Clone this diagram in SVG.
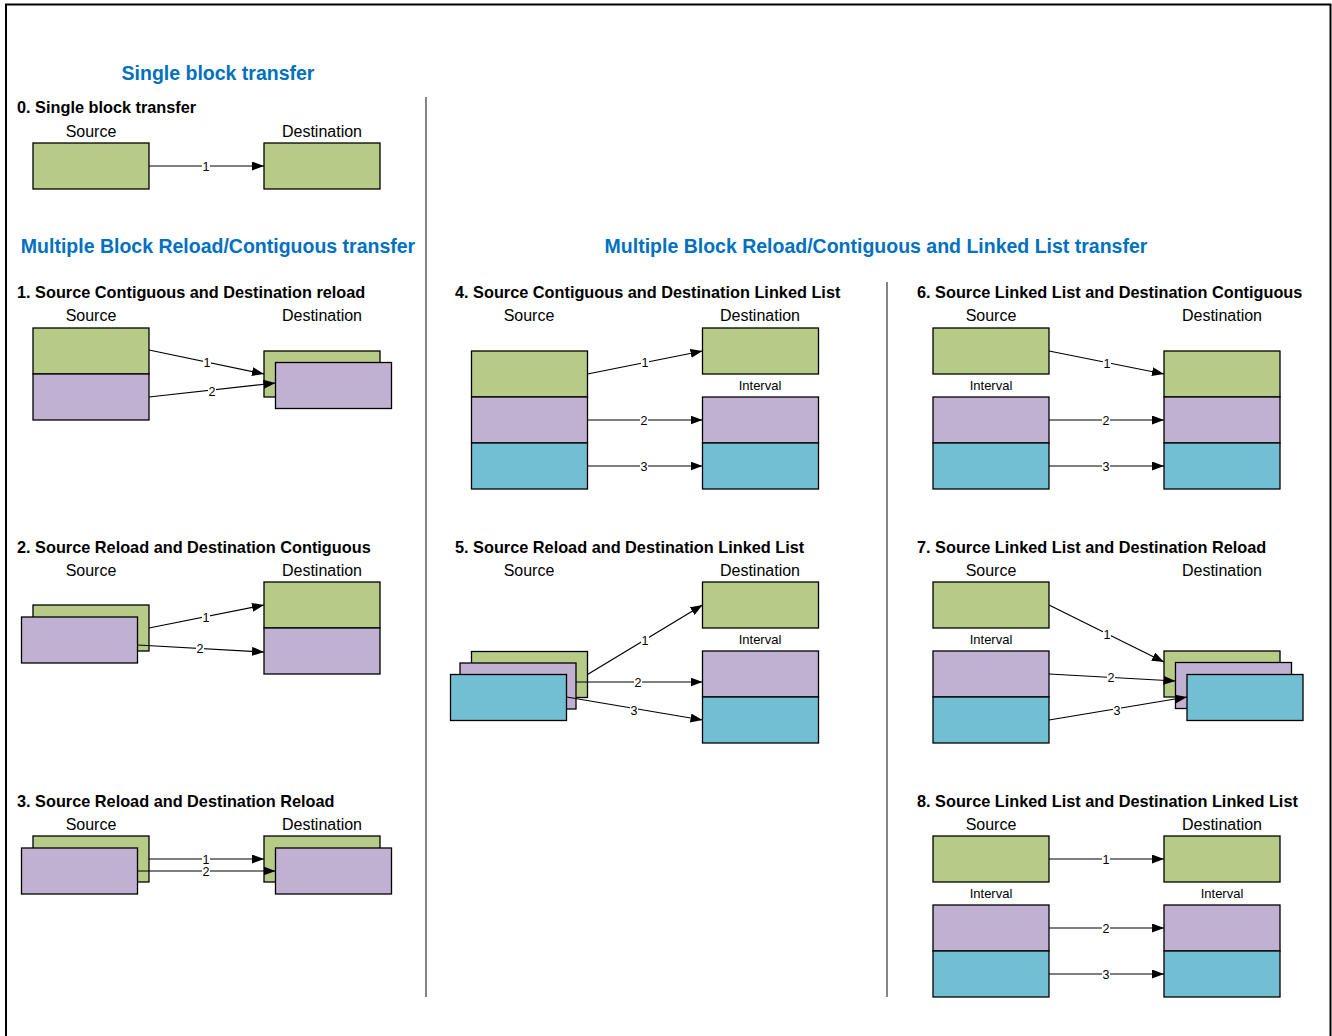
<svg xmlns="http://www.w3.org/2000/svg" width="1332" height="1036" viewBox="0 0 1332 1036">
<style>
text{font-family:"Liberation Sans",Arial,sans-serif;fill:#000}
.title{font-size:19.5px;font-weight:bold;fill:#0070C0;text-anchor:middle}
.head{font-size:16.3px;font-weight:bold}
.lbl{font-size:16px;text-anchor:middle}
.intv{font-size:13px;text-anchor:middle}
.num{font-size:12.5px;text-anchor:middle}
.bg{fill:#fff}
.g{fill:#B6CB88;stroke:#000;stroke-width:1.3}
.p{fill:#C0B1D2;stroke:#000;stroke-width:1.3}
.c{fill:#72BFD3;stroke:#000;stroke-width:1.3}
.conn line{stroke:#000;stroke-width:1.2;marker-end:url(#ah)}
.div{stroke:#333;stroke-width:1.2}
</style>
<defs>
<marker id="ah" markerUnits="userSpaceOnUse" markerWidth="13" markerHeight="9" refX="12" refY="4.5" orient="auto">
<path d="M0,0 L12,4.5 L0,9 z" fill="#000"/>
</marker>
</defs>
<rect x="6" y="4.5" width="1324.5" height="1045" fill="#fff" stroke="#000" stroke-width="2"/>
<line class="div" x1="426" y1="97" x2="426" y2="997"/>
<line class="div" x1="887" y1="282" x2="887" y2="997"/>

<text class="title" x="218" y="80">Single block transfer</text>
<text class="title" x="218" y="253">Multiple Block Reload/Contiguous transfer</text>
<text class="title" x="876" y="253">Multiple Block Reload/Contiguous and Linked List transfer</text>

<!-- Section 0 -->
<text class="head" x="17" y="113">0. Single block transfer</text>
<text class="lbl" x="91" y="137">Source</text>
<text class="lbl" x="322" y="137">Destination</text>
<g id="s0-src"><rect class="g" x="33" y="143" width="116" height="46"/></g>
<g id="s0-dst"><rect class="g" x="264" y="143" width="116" height="46"/></g>

<!-- Section 1 -->
<text class="head" x="17" y="298">1. Source Contiguous and Destination reload</text>
<text class="lbl" x="91" y="321">Source</text>
<text class="lbl" x="322" y="321">Destination</text>
<g id="s1-src1"><rect class="g" x="33" y="328" width="116" height="46"/></g>
<g id="s1-src2"><rect class="p" x="33" y="374" width="116" height="46"/></g>
<g id="s1-dst1"><rect class="g" x="264" y="351" width="116" height="46"/></g>
<g id="s1-dst2"><rect class="p" x="275.5" y="362.5" width="116" height="46"/></g>

<!-- Section 2 -->
<text class="head" x="17" y="553">2. Source Reload and Destination Contiguous</text>
<text class="lbl" x="91" y="576">Source</text>
<text class="lbl" x="322" y="576">Destination</text>
<g id="s2-src1"><rect class="g" x="33" y="605" width="116" height="46"/></g>
<g id="s2-src2"><rect class="p" x="21.5" y="617" width="116" height="46"/></g>
<g id="s2-dst1"><rect class="g" x="264" y="582" width="116" height="46"/></g>
<g id="s2-dst2"><rect class="p" x="264" y="628" width="116" height="46"/></g>

<!-- Section 3 -->
<text class="head" x="17" y="807">3. Source Reload and Destination Reload</text>
<text class="lbl" x="91" y="830">Source</text>
<text class="lbl" x="322" y="830">Destination</text>
<g id="s3-src1"><rect class="g" x="33" y="836" width="116" height="46"/></g>
<g id="s3-src2"><rect class="p" x="21.5" y="848" width="116" height="46"/></g>
<g id="s3-dst1"><rect class="g" x="264" y="836" width="116" height="46"/></g>
<g id="s3-dst2"><rect class="p" x="275.5" y="848" width="116" height="46"/></g>

<!-- Section 4 -->
<text class="head" x="455" y="298">4. Source Contiguous and Destination Linked List</text>
<text class="lbl" x="529" y="321">Source</text>
<text class="lbl" x="760" y="321">Destination</text>
<g id="s4-src1"><rect class="g" x="471.5" y="351" width="116" height="46"/></g>
<g id="s4-src2"><rect class="p" x="471.5" y="397" width="116" height="46"/></g>
<g id="s4-src3"><rect class="c" x="471.5" y="443" width="116" height="46"/></g>
<g id="s4-dst1"><rect class="g" x="702.5" y="328" width="116" height="46"/></g>
<text class="intv" x="760" y="389.5">Interval</text>
<g id="s4-dst2"><rect class="p" x="702.5" y="397" width="116" height="46"/></g>
<g id="s4-dst3"><rect class="c" x="702.5" y="443" width="116" height="46"/></g>

<!-- Section 5 -->
<text class="head" x="455" y="553">5. Source Reload and Destination Linked List</text>
<text class="lbl" x="529" y="576">Source</text>
<text class="lbl" x="760" y="576">Destination</text>
<g id="s5-src1"><rect class="g" x="471.5" y="651.5" width="116" height="46"/></g>
<g id="s5-src2"><rect class="p" x="460" y="663" width="116" height="46"/></g>
<g id="s5-src3"><rect class="c" x="450.5" y="674.5" width="116" height="46"/></g>
<g id="s5-dst1"><rect class="g" x="702.5" y="582" width="116" height="46"/></g>
<text class="intv" x="760" y="644">Interval</text>
<g id="s5-dst2"><rect class="p" x="702.5" y="651" width="116" height="46"/></g>
<g id="s5-dst3"><rect class="c" x="702.5" y="697" width="116" height="46"/></g>

<!-- Section 6 -->
<text class="head" x="917" y="298">6. Source Linked List and Destination Contiguous</text>
<text class="lbl" x="991" y="321">Source</text>
<text class="lbl" x="1222" y="321">Destination</text>
<g id="s6-src1"><rect class="g" x="933" y="328" width="116" height="46"/></g>
<text class="intv" x="991" y="389.5">Interval</text>
<g id="s6-src2"><rect class="p" x="933" y="397" width="116" height="46"/></g>
<g id="s6-src3"><rect class="c" x="933" y="443" width="116" height="46"/></g>
<g id="s6-dst1"><rect class="g" x="1164" y="351" width="116" height="46"/></g>
<g id="s6-dst2"><rect class="p" x="1164" y="397" width="116" height="46"/></g>
<g id="s6-dst3"><rect class="c" x="1164" y="443" width="116" height="46"/></g>

<!-- Section 7 -->
<text class="head" x="917" y="553">7. Source Linked List and Destination Reload</text>
<text class="lbl" x="991" y="576">Source</text>
<text class="lbl" x="1222" y="576">Destination</text>
<g id="s7-src1"><rect class="g" x="933" y="582" width="116" height="46"/></g>
<text class="intv" x="991" y="644">Interval</text>
<g id="s7-src2"><rect class="p" x="933" y="651" width="116" height="46"/></g>
<g id="s7-src3"><rect class="c" x="933" y="697" width="116" height="46"/></g>
<g id="s7-dst1"><rect class="g" x="1164" y="651" width="116" height="46"/></g>
<g id="s7-dst2"><rect class="p" x="1175.5" y="662.5" width="116" height="46"/></g>
<g id="s7-dst3"><rect class="c" x="1187" y="674.5" width="116" height="46"/></g>

<!-- Section 8 -->
<text class="head" x="917" y="807">8. Source Linked List and Destination Linked List</text>
<text class="lbl" x="991" y="830">Source</text>
<text class="lbl" x="1222" y="830">Destination</text>
<g id="s8-src1"><rect class="g" x="933" y="836" width="116" height="46"/></g>
<text class="intv" x="991" y="897.5">Interval</text>
<g id="s8-src2"><rect class="p" x="933" y="905" width="116" height="46"/></g>
<g id="s8-src3"><rect class="c" x="933" y="951" width="116" height="46"/></g>
<g id="s8-dst1"><rect class="g" x="1164" y="836" width="116" height="46"/></g>
<text class="intv" x="1222" y="897.5">Interval</text>
<g id="s8-dst2"><rect class="p" x="1164" y="905" width="116" height="46"/></g>
<g id="s8-dst3"><rect class="c" x="1164" y="951" width="116" height="46"/></g>

<g id="connectors" class="conn">
<!-- 0 -->
<line x1="149" y1="166" x2="264" y2="166"/><rect class="bg" x="202" y="160" width="8" height="12"/><text class="num" x="206" y="170.5">1</text>
<!-- 1 -->
<line x1="149" y1="350" x2="264" y2="374"/><rect class="bg" x="203" y="356" width="8" height="12"/><text class="num" x="207" y="366.5">1</text>
<line x1="149" y1="397" x2="275.5" y2="383"/><rect class="bg" x="208" y="385" width="8" height="12"/><text class="num" x="212" y="395.5">2</text>
<!-- 2 -->
<line x1="149" y1="628" x2="264" y2="605"/><rect class="bg" x="202" y="611" width="8" height="12"/><text class="num" x="206" y="621.5">1</text>
<line x1="137.5" y1="645" x2="264" y2="652"/><rect class="bg" x="196" y="642" width="8" height="12"/><text class="num" x="200" y="652.5">2</text>
<!-- 3 -->
<line x1="149" y1="859" x2="264" y2="859"/><rect class="bg" x="202" y="853" width="8" height="11"/><text class="num" x="206" y="863.5">1</text>
<line x1="137.5" y1="871" x2="275.5" y2="871"/><rect class="bg" x="202" y="865" width="8" height="11"/><text class="num" x="206" y="875.5">2</text>
<!-- 4 -->
<line x1="587.5" y1="374" x2="702.5" y2="351"/><rect class="bg" x="641" y="356" width="8" height="12"/><text class="num" x="645" y="366.5">1</text>
<line x1="587.5" y1="420" x2="702.5" y2="420"/><rect class="bg" x="640" y="414" width="8" height="12"/><text class="num" x="644" y="424.5">2</text>
<line x1="587.5" y1="466" x2="702.5" y2="466"/><rect class="bg" x="640" y="460" width="8" height="12"/><text class="num" x="644" y="470.5">3</text>
<!-- 5 -->
<line x1="587.5" y1="674.5" x2="702.5" y2="605"/><rect class="bg" x="641" y="634" width="8" height="12"/><text class="num" x="645" y="644.5">1</text>
<line x1="576" y1="682" x2="702.5" y2="682"/><rect class="bg" x="634" y="676" width="8" height="12"/><text class="num" x="638" y="686.5">2</text>
<line x1="566.5" y1="697" x2="702.5" y2="720"/><rect class="bg" x="630" y="704" width="8" height="12"/><text class="num" x="634" y="714.5">3</text>
<!-- 6 -->
<line x1="1049" y1="351" x2="1164" y2="374"/><rect class="bg" x="1103" y="357" width="8" height="12"/><text class="num" x="1107" y="367.5">1</text>
<line x1="1049" y1="420" x2="1164" y2="420"/><rect class="bg" x="1102" y="414" width="8" height="12"/><text class="num" x="1106" y="424.5">2</text>
<line x1="1049" y1="466" x2="1164" y2="466"/><rect class="bg" x="1102" y="460" width="8" height="12"/><text class="num" x="1106" y="470.5">3</text>
<!-- 7 -->
<line x1="1049" y1="605" x2="1164" y2="662"/><rect class="bg" x="1103" y="628" width="8" height="12"/><text class="num" x="1107" y="638.5">1</text>
<line x1="1049" y1="674" x2="1175.5" y2="681"/><rect class="bg" x="1107" y="671" width="8" height="12"/><text class="num" x="1111" y="681.5">2</text>
<line x1="1049" y1="720" x2="1187" y2="697"/><rect class="bg" x="1113" y="704" width="8" height="12"/><text class="num" x="1117" y="714.5">3</text>
<!-- 8 -->
<line x1="1049" y1="859" x2="1164" y2="859"/><rect class="bg" x="1102" y="853" width="8" height="12"/><text class="num" x="1106" y="863.5">1</text>
<line x1="1049" y1="928" x2="1164" y2="928"/><rect class="bg" x="1102" y="922" width="8" height="12"/><text class="num" x="1106" y="932.5">2</text>
<line x1="1049" y1="974" x2="1164" y2="974"/><rect class="bg" x="1102" y="968" width="8" height="12"/><text class="num" x="1106" y="978.5">3</text>
</g>
</svg>
